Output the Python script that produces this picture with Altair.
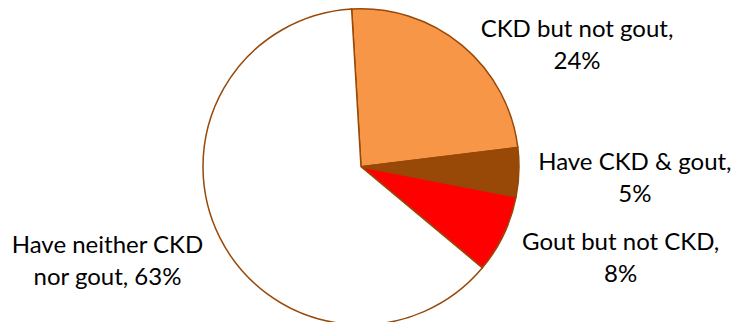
import altair as alt
import pandas as pd
import math

categories = ["CKD but not gout", "Have CKD & gout", "Gout but not CKD", "Have neither CKD nor gout"]
values = [24, 5, 8, 63]
label_lines = [
    ["CKD but not gout,", "24%"],
    ["Have CKD & gout,", "5%"],
    ["Gout but not CKD,", "8%"],
    ["Have neither  CKD", "nor gout, 63%"],
]
colors = ["#F79646", "#984807", "#FF0000", "#FFFFFF"]

df = pd.DataFrame({
    "category": categories,
    "value": values,
    "order": list(range(len(categories))),
    "label": label_lines,
})

start = -3.4 * math.pi / 180
theta_scale = alt.Scale(range=[start, start + 2 * math.pi])
CX, CY, R = 361, 166.7, 158

base = alt.Chart(df)

pie = base.mark_arc(
    radius=R, stroke="#984807", strokeWidth=1.5, x=CX, y=CY
).encode(
    theta=alt.Theta("value:Q", stack=True, scale=theta_scale),
    order=alt.Order("order:Q"),
    color=alt.Color("category:N", scale=alt.Scale(domain=categories, range=colors), legend=None),
)

offsets = [(88, 17), (74, -11), (79, -9), (-75, -11)]
layers = [pie]
for i, (dx, dy) in enumerate(offsets):
    t = base.mark_text(
        radius=200, x=CX, y=CY, dx=dx, dy=dy,
        font="Lato", fontSize=24, lineHeight=32, align="center", baseline="middle",
        color="#000000",
    ).encode(
        theta=alt.Theta("value:Q", stack=True, scale=theta_scale),
        order=alt.Order("order:Q"),
        text="label",
        opacity=alt.condition(alt.datum.order == i, alt.value(1), alt.value(0)),
    )
    layers.append(t)

chart = alt.layer(*layers).properties(
    width=731, height=322, padding=0, autosize=alt.AutoSizeParams(type="none")
).configure_view(stroke=None)

chart.save("out.html", embed_options={"renderer": "svg", "actions": False})
